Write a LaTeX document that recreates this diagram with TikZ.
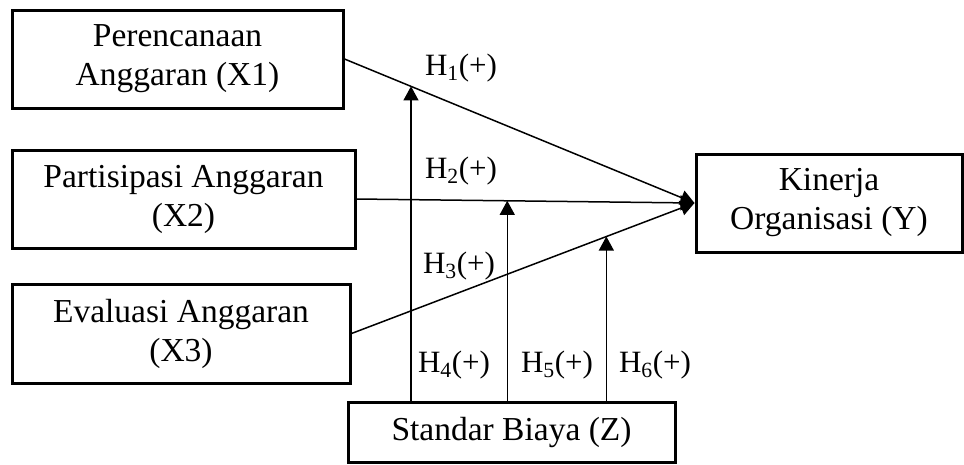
\documentclass[tikz,border=0pt]{standalone}
\usepackage{fontspec}
\setmainfont{Liberation Serif}
\usetikzlibrary{arrows.meta,calc}
\begin{document}
\begin{tikzpicture}[x=1pt,y=-1pt,
  box/.style={draw,line width=3pt,align=center,inner sep=0pt,font=\fontsize{33.5}{39}\selectfont},
  conn/.style={line width=1.5pt,-{Triangle[width=15pt,length=14pt]}},
  vconn/.style={line width=1.1pt,-{Triangle[width=15pt,length=14pt]}},
  hlab/.style={anchor=base,inner sep=0pt,font=\fontsize{31}{36}\selectfont}]
\useasboundingbox (0,0) rectangle (964,464);
\node[box,minimum width=331pt,minimum height=98pt] (X1) at (177.5,59) {Perencanaan\\Anggaran (X1)};
\node[box,minimum width=343pt,minimum height=98pt] (X2) at (183.5,199) {Partisipasi Anggaran\\(X2)};
\node[box,minimum width=338pt,minimum height=99pt] (X3) at (181,333.5) {Evaluasi Anggaran\\(X3)};
\node[box,minimum width=266pt,minimum height=98pt] (Y) at (829,203) {Kinerja\\Organisasi (Y)};
\node[box,minimum width=327pt,minimum height=60pt] (Z) at (511.5,432) {Standar Biaya (Z)};
\draw[conn] (X1.east) -- (Y.west);
\draw[conn] (X2.east) -- (Y.west);
\draw[conn] (X3.east) -- (Y.west);
\coordinate (t1) at ($(X1.east)!0.19!(Y.west)$);
\coordinate (t2) at ($(X2.east)!0.446!(Y.west)$);
\coordinate (t3) at ($(X3.east)!0.743!(Y.west)$);
\draw[vconn] (t1 |- Z.north) -- (t1);
\draw[vconn] (t2 |- Z.north) -- (t2);
\draw[vconn] (t3 |- Z.north) -- (t3);
\node[hlab] (h1) at (461,75) {H\textsubscript{1}(+)};
\node[hlab] (h2) at (461,178) {H\textsubscript{2}(+)};
\node[hlab] (h3) at (459,273) {H\textsubscript{3}(+)};
\node[hlab] (h4) at (454,372) {H\textsubscript{4}(+)};
\node[hlab] (h5) at (557,372) {H\textsubscript{5}(+)};
\node[hlab] (h6) at (655,372) {H\textsubscript{6}(+)};
\end{tikzpicture}
\end{document}
